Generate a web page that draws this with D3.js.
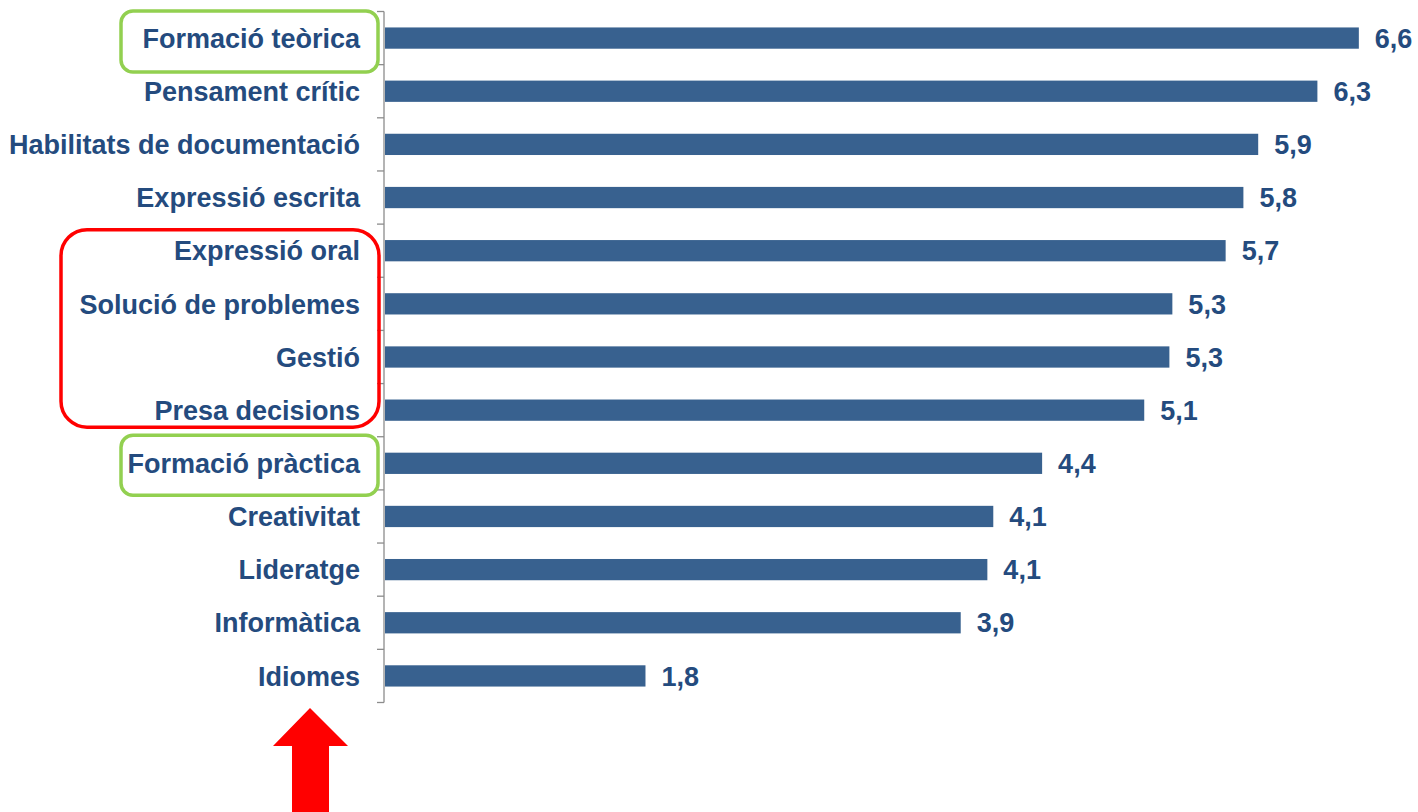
<!DOCTYPE html>
<html>
<head>
<meta charset="utf-8">
<script src="https://cdn.jsdelivr.net/npm/d3@7"></script>
<style>
  html, body { margin: 0; padding: 0; background: #fff; }
  svg { display: block; }
</style>
</head>
<body>
<div id="chart"></div>
<script>
// categories, top to bottom
const categories = [
  "Formació teòrica", "Pensament crític", "Habilitats de documentació",
  "Expressió escrita", "Expressió oral", "Solució de problemes", "Gestió",
  "Presa decisions", "Formació pràctica", "Creativitat", "Lideratge",
  "Informàtica", "Idiomes"
];
// values (labels are rounded to 1 decimal)
const values = [6.58, 6.30, 5.90, 5.80, 5.68, 5.32, 5.30, 5.13, 4.44, 4.11, 4.07, 3.89, 1.76];

// highlighted groups: [first category, last category, colour]
const highlights = [
  ["Formació teòrica", "Formació teòrica", "#92d050"],
  ["Expressió oral", "Presa decisions", "#ff0000"],
  ["Formació pràctica", "Formació pràctica", "#92d050"]
];

const w = 1418, h = 812;
const textColor = "#244b7e";
const barColor = "#38618f";

const svg = d3.select("#chart").append("svg")
  .attr("width", w).attr("height", h);

const xScale = d3.scaleLinear().domain([0, 7]).range([385, 385 + 7 * 148]);
const yScale = d3.scaleBand().domain(categories).range([11.5, 702.5]).paddingInner(0.6).paddingOuter(0.3);
const step = yScale.step();
const mid = c => yScale(c) + yScale.bandwidth() / 2;

// bars
svg.selectAll("rect.bar")
  .data(values)
  .enter()
  .append("rect")
  .attr("class", "bar")
  .attr("x", xScale(0))
  .attr("y", (d, i) => yScale(categories[i]))
  .attr("width", d => xScale(d) - xScale(0))
  .attr("height", yScale.bandwidth())
  .attr("fill", barColor);

// value labels
svg.selectAll("text.val")
  .data(values)
  .enter()
  .append("text")
  .attr("class", "val")
  .attr("x", d => xScale(d) + 16)
  .attr("y", (d, i) => mid(categories[i]))
  .attr("dy", "0.36em")
  .attr("fill", textColor)
  .style("font", "bold 27px 'Liberation Sans', Arial, sans-serif")
  .text(d => d3.format(".1f")(d).replace(".", ","));

// y axis line with ticks at band edges
const axis = svg.append("g").attr("stroke", "#8c8c8c").attr("stroke-width", 1.3);
axis.append("line")
  .attr("x1", 384).attr("x2", 384)
  .attr("y1", yScale.range()[0]).attr("y2", yScale.range()[1]);
axis.selectAll("line.tick")
  .data(d3.range(categories.length + 1))
  .enter()
  .append("line")
  .attr("class", "tick")
  .attr("x1", 377).attr("x2", 384)
  .attr("y1", i => yScale.range()[0] + i * step)
  .attr("y2", i => yScale.range()[0] + i * step);

// category labels
svg.selectAll("text.cat")
  .data(categories)
  .enter()
  .append("text")
  .attr("class", "cat")
  .attr("x", 360)
  .attr("y", d => mid(d))
  .attr("dy", "0.36em")
  .attr("text-anchor", "end")
  .attr("fill", textColor)
  .style("font", "bold 27px 'Liberation Sans', Arial, sans-serif")
  .text(d => d);

// rounded highlight boxes
const boxes = [
  { x: 121, x2: 378, top: -27, bottom: 34, r: 12 },
  { x: 61, x2: 379, top: -21, bottom: 17, r: 26 },
  { x: 121, x2: 378, top: -28, bottom: 32, r: 12 }
];
highlights.forEach((hl, i) => {
  const b = boxes[i];
  const y1 = mid(hl[0]) + b.top, y2 = mid(hl[1]) + b.bottom;
  svg.append("rect")
    .attr("x", b.x).attr("y", y1)
    .attr("width", b.x2 - b.x).attr("height", y2 - y1)
    .attr("rx", b.r).attr("ry", b.r)
    .attr("fill", "none")
    .attr("stroke", hl[2])
    .attr("stroke-width", 3.5);
});

// red arrow pointing up at "Idiomes"
svg.append("polygon")
  .attr("points", "310,708 348,746 329,746 329,812 292,812 292,746 273,746")
  .attr("fill", "#ff0000");
</script>
</body>
</html>
